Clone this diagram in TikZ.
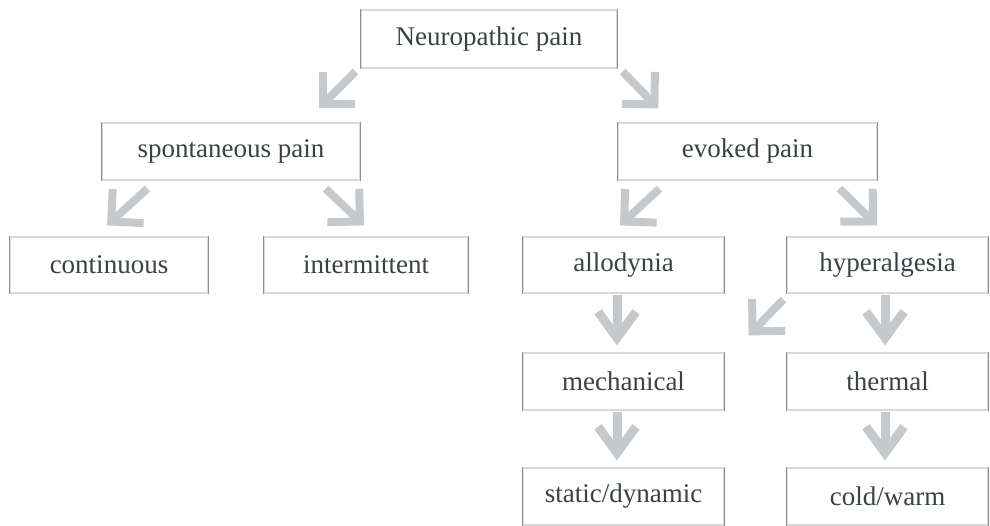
\documentclass[tikz,border=0pt]{standalone}
\usepackage{fontspec}
\setmainfont{Liberation Serif}
\usetikzlibrary{arrows.meta,calc}
\definecolor{arrcol}{RGB}{198,201,203}
\definecolor{topcol}{RGB}{215,217,218}
\definecolor{sidecol}{RGB}{140,142,143}
\definecolor{txtcol}{RGB}{58,66,68}
\tikzset{
  box/.style={draw=topcol, line width=1.2pt, fill=white, text=txtcol,
    font=\fontsize{27}{30}\selectfont, minimum height=57pt, inner sep=0pt,
    append after command={
      (\tikzlastnode.north west) edge[boxside] (\tikzlastnode.south west)
      (\tikzlastnode.north east) edge[boxside] (\tikzlastnode.south east)}},
  boxside/.style={draw=sidecol, line width=1.2pt},
  darr/.style={draw=arrcol, line width=8pt,
    -{Straight Barb[length=23pt, width=46pt]}},
  varr/.style={draw=arrcol, line width=9pt,
    -{Straight Barb[length=26pt, width=38pt]}}
}
\begin{document}
\begin{tikzpicture}[x=1pt, y=-1pt]
\useasboundingbox[fill=white] (0,0) rectangle (990,526);
\node[box, minimum width=256pt, minimum height=58pt] (np) at (489,39) {Neuropathic pain};
\node[box, minimum width=258pt] (sp) at (231,151.5) {spontaneous pain};
\node[box, minimum width=259pt] (ev) at (747.5,151.5) {evoked pain};
\node[box, minimum width=198pt, minimum height=56pt] (co) at (109,265) {continuous};
\node[box, minimum width=204pt, minimum height=56pt] (in) at (366,265) {intermittent};
\node[box, minimum width=201pt, minimum height=56pt] (al) at (623.5,265) {allodynia};
\node[box, minimum width=201pt, minimum height=56pt] (hy) at (887.5,265) {hyperalgesia};
\node[box, minimum width=201pt] (me) at (623.5,381.5) {mechanical};
\node[box, minimum width=201pt] (th) at (887.5,381.5) {thermal};
\node[box, minimum width=201pt] (sd) at (623.5,496.5) {static/dynamic};
\node[box, minimum width=201pt] (cw) at (887.5,496.5) {cold/warm};

\draw[darr] ($(np.south west)+(-5,3)$) -- ($(sp.north east)+(-42,-14)$);
\draw[darr] ($(np.south east)+(5,3)$) -- ($(ev.north west)+(41,-14)$);
\draw[darr] ($(sp.south west)+(46,8)$) -- ($(co.north)+(-2,-11)$);
\draw[darr] ($(sp.south east)+(-35,8)$) -- ($(in.north)+(-2,-11)$);
\draw[darr] ($(ev.south west)+(42,8)$) -- ($(al.north)+(-3.5,-11)$);
\draw[darr] ($(ev.south east)+(-38,8)$) -- ($(hy.north)+(-10.5,-11)$);
\draw[darr] ($(hy.south west)+(-3,6)$) -- ($(me.north east)+(24,-17)$);
\draw[varr] ($(al.south)+(-6.5,1)$) -- ($(me.north)+(-6.5,-7)$);
\draw[varr] ($(hy.south)+(-2.5,1)$) -- ($(th.north)+(-2.5,-7)$);
\draw[varr] ($(me.south)+(-6.5,1)$) -- ($(sd.north)+(-6.5,-7)$);
\draw[varr] ($(th.south)+(-2.5,1)$) -- ($(cw.north)+(-2.5,-7)$);
\end{tikzpicture}
\end{document}
